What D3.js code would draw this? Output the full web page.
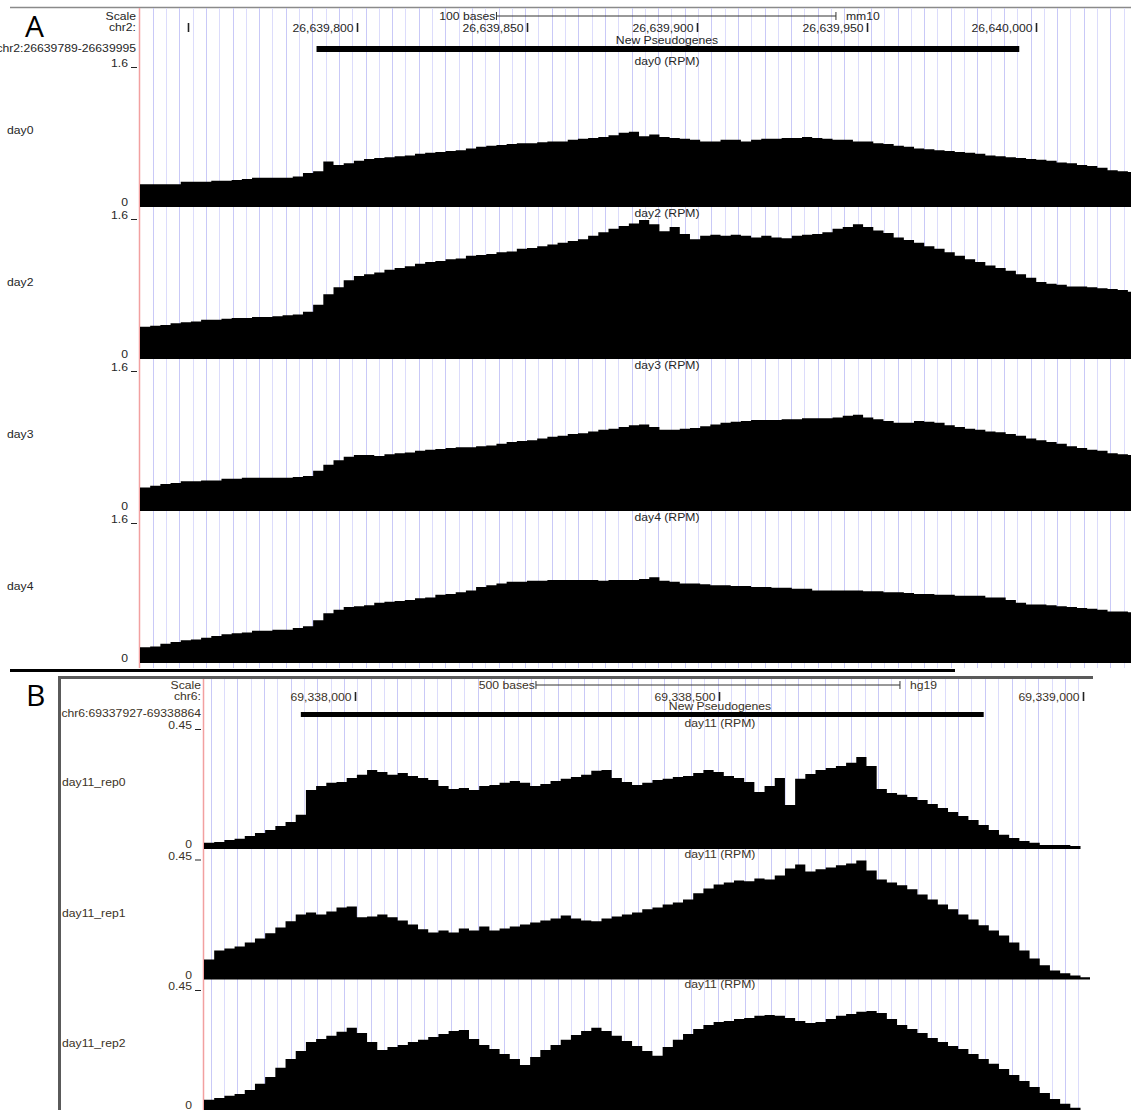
<!DOCTYPE html>
<html><head><meta charset="utf-8">
<script src="https://cdn.jsdelivr.net/npm/d3@7"></script>
<style>html,body{margin:0;padding:0;background:#fff}</style>
</head><body>
<svg id="c" width="1131" height="1110"></svg>
<script>
// ---------- Panel A: mm10 chr2, New Pseudogenes, RPM coverage ----------
const chromA = "chr2";
const assemblyA = "mm10";
const regionA = [26639736, 26640028];          // visible window
const featureA = [26639788, 26639995];         // pseudogene body
const featureLabelA = "chr2:26639789-26639995";
const scaleBarA = [26639841, 26639941];        // "100 bases"
const ticksA = [26639750, 26639800, 26639850, 26639900, 26639950, 26640000];
const tickLabelsA = ["", "26,639,800", "26,639,850", "26,639,900", "26,639,950", "26,640,000"];
const binStartA = 26639736, binSizeA = 3;
const tracksA = ["day0", "day2", "day3", "day4"];
const yMaxA = 1.6;

const day0 = [0.26,0.26,0.26,0.26,0.29,0.29,0.29,0.30,0.30,0.31,
  0.32,0.335,0.335,0.335,0.335,0.35,0.39,0.41,0.52,0.48,
  0.50,0.53,0.55,0.56,0.57,0.58,0.59,0.61,0.62,0.63,
  0.64,0.65,0.67,0.69,0.70,0.71,0.72,0.73,0.73,0.74,
  0.75,0.75,0.77,0.78,0.79,0.80,0.82,0.85,0.86,0.81,
  0.83,0.80,0.79,0.78,0.77,0.75,0.75,0.77,0.77,0.75,
  0.77,0.78,0.78,0.79,0.79,0.80,0.79,0.78,0.77,0.77,
  0.75,0.75,0.73,0.72,0.70,0.69,0.67,0.66,0.65,0.64,
  0.63,0.62,0.61,0.59,0.58,0.57,0.56,0.55,0.54,0.53,
  0.51,0.50,0.48,0.47,0.45,0.42,0.41,0.40];
const day2 = [0.37,0.38,0.39,0.41,0.42,0.43,0.45,0.45,0.46,0.47,
  0.47,0.48,0.48,0.49,0.50,0.51,0.54,0.62,0.74,0.82,
  0.90,0.95,0.97,0.99,1.02,1.04,1.06,1.09,1.11,1.12,
  1.14,1.15,1.18,1.19,1.20,1.22,1.23,1.26,1.27,1.29,
  1.31,1.33,1.35,1.37,1.41,1.45,1.49,1.52,1.55,1.59,
  1.54,1.46,1.51,1.43,1.37,1.41,1.42,1.41,1.42,1.41,
  1.39,1.41,1.39,1.38,1.41,1.42,1.43,1.45,1.49,1.51,
  1.54,1.51,1.47,1.44,1.39,1.36,1.33,1.29,1.26,1.22,
  1.18,1.14,1.11,1.07,1.04,1.01,0.97,0.93,0.88,0.86,
  0.85,0.83,0.83,0.82,0.81,0.80,0.79,0.77];
const day3 = [0.27,0.29,0.31,0.32,0.34,0.34,0.35,0.35,0.37,0.37,
  0.38,0.38,0.38,0.38,0.38,0.39,0.40,0.46,0.53,0.58,
  0.62,0.64,0.64,0.63,0.65,0.66,0.67,0.69,0.70,0.71,
  0.72,0.73,0.73,0.74,0.75,0.77,0.79,0.80,0.81,0.83,
  0.85,0.86,0.88,0.89,0.91,0.93,0.94,0.96,0.98,0.99,
  0.96,0.93,0.93,0.94,0.95,0.97,0.99,1.01,1.02,1.03,
  1.04,1.04,1.04,1.05,1.05,1.06,1.06,1.06,1.07,1.09,
  1.10,1.07,1.05,1.03,1.01,1.01,1.03,1.02,1.01,0.98,
  0.96,0.94,0.93,0.91,0.90,0.88,0.86,0.83,0.81,0.79,
  0.77,0.74,0.72,0.70,0.69,0.66,0.65,0.64];
const day4 = [0.18,0.19,0.22,0.24,0.26,0.27,0.29,0.31,0.33,0.34,
  0.35,0.37,0.37,0.38,0.38,0.40,0.42,0.49,0.57,0.61,
  0.64,0.65,0.66,0.69,0.70,0.71,0.72,0.74,0.75,0.78,
  0.79,0.81,0.83,0.87,0.89,0.91,0.93,0.93,0.94,0.94,
  0.95,0.95,0.95,0.95,0.95,0.94,0.95,0.95,0.95,0.96,
  0.98,0.94,0.93,0.91,0.91,0.90,0.89,0.89,0.88,0.88,
  0.87,0.87,0.86,0.86,0.85,0.85,0.83,0.83,0.83,0.83,
  0.83,0.82,0.82,0.81,0.81,0.80,0.79,0.79,0.78,0.78,
  0.77,0.77,0.77,0.75,0.75,0.72,0.69,0.67,0.67,0.66,
  0.65,0.64,0.63,0.62,0.61,0.59,0.59,0.58];

// ---------- Panel B: hg19 chr6, New Pseudogenes, RPM coverage ----------
const chromB = "chr6";
const assemblyB = "hg19";
const regionB = [69337793, 69339010];
const featureB = [69337926, 69338864];
const featureLabelB = "chr6:69337927-69338864";
const scaleBarB = [69338249, 69338749];        // "500 bases"
const ticksB = [69338000, 69338500, 69339000];
const tickLabelsB = ["69,338,000", "69,338,500", "69,339,000"];
const binStartB = 69337793, binSizeB = 14;
const tracksB = ["day11_rep0", "day11_rep1", "day11_rep2"];
const yMaxB = 0.45;

const rep0 = [0.023,0.026,0.034,0.038,0.049,0.060,0.071,0.086,0.101,0.128,
  0.221,0.236,0.248,0.251,0.266,0.278,0.296,0.289,0.278,0.285,
  0.274,0.266,0.259,0.236,0.225,0.229,0.221,0.236,0.240,0.248,
  0.255,0.248,0.236,0.244,0.255,0.263,0.270,0.278,0.293,0.296,
  0.266,0.251,0.240,0.248,0.259,0.263,0.270,0.274,0.285,0.296,
  0.289,0.274,0.266,0.251,0.214,0.236,0.266,0.165,0.263,0.281,
  0.296,0.304,0.311,0.323,0.345,0.311,0.225,0.210,0.203,0.195,
  0.184,0.169,0.154,0.139,0.124,0.109,0.090,0.071,0.053,0.041,
  0.030,0.023,0.015,0.015,0.015,0.011,0];
const rep1 = [0.075,0.109,0.116,0.124,0.139,0.154,0.173,0.195,0.218,0.244,
  0.251,0.244,0.255,0.270,0.274,0.233,0.236,0.244,0.233,0.221,
  0.206,0.188,0.176,0.184,0.176,0.191,0.184,0.199,0.184,0.191,
  0.199,0.206,0.214,0.221,0.229,0.240,0.229,0.221,0.218,0.229,
  0.236,0.244,0.251,0.263,0.270,0.281,0.289,0.300,0.323,0.341,
  0.356,0.364,0.371,0.368,0.379,0.375,0.390,0.416,0.431,0.405,
  0.413,0.420,0.428,0.435,0.446,0.409,0.375,0.364,0.353,0.338,
  0.319,0.300,0.281,0.263,0.244,0.225,0.203,0.184,0.165,0.139,
  0.109,0.079,0.053,0.034,0.023,0.015,0.008];
const rep2 = [0.038,0.045,0.053,0.060,0.075,0.098,0.124,0.158,0.191,0.221,
  0.255,0.266,0.278,0.293,0.308,0.289,0.255,0.225,0.236,0.244,
  0.255,0.263,0.274,0.285,0.296,0.300,0.266,0.244,0.229,0.210,
  0.191,0.169,0.199,0.225,0.244,0.263,0.281,0.296,0.308,0.296,
  0.278,0.259,0.240,0.221,0.203,0.236,0.263,0.285,0.304,0.319,
  0.330,0.334,0.341,0.345,0.353,0.356,0.353,0.345,0.334,0.326,
  0.330,0.341,0.353,0.360,0.368,0.371,0.364,0.341,0.319,0.304,
  0.289,0.270,0.255,0.240,0.229,0.210,0.191,0.173,0.154,0.131,
  0.109,0.086,0.064,0.041,0.023,0.008,0];

// ---------- drawing ----------
const svg = d3.select("#c");
const FONT = "'Liberation Sans', Arial, Helvetica, sans-serif";
const SX = 1.22;   // browser-style wide glyphs

function label(g, x, y, s, anchor, o = {}) {
  return g.append("text")
    .attr("transform", `translate(${x},${y}) scale(${o.sx || SX},1)`)
    .attr("text-anchor", anchor || "start")
    .attr("font-family", FONT)
    .attr("font-size", o.size || 10)
    .attr("fill", o.fill || "#222")
    .text(s);
}

function drawPanel(p) {
  const g = svg.append("g");
  const x = d3.scaleLinear().domain(p.region).range([p.left, p.rightEdge]);

  const clipId = "clip" + p.id;
  svg.append("clipPath").attr("id", clipId)
    .append("rect").attr("x", p.left).attr("y", p.top).attr("width", p.right - p.left).attr("height", p.bottom - p.top);

  // guide lines
  const guides = d3.range(p.left + p.guideOffset, p.right, p.guideStep);
  g.append("g").selectAll("line").data(guides).join("line")
    .attr("x1", d => Math.round(d) + 0.5).attr("x2", d => Math.round(d) + 0.5)
    .attr("y1", p.top).attr("y2", p.bottom)
    .attr("stroke", (d, i) => i % 2 ? "#dcdcfb" : "#c9c9f7").attr("stroke-width", 1);

  // left red boundary
  g.append("line").attr("x1", p.left - 0.5).attr("x2", p.left - 0.5)
    .attr("y1", p.top).attr("y2", p.bottom).attr("stroke", "#f2a0a0").attr("stroke-width", 1.5);

  const fill = p.textFill;
  // ruler
  label(g, p.labelRight, p.r.scaleY, "Scale", "end", {fill});
  label(g, p.labelRight, p.r.chromY, p.chrom + ":", "end", {fill});
  const b0 = x(p.scaleBar[0]), b1 = x(p.scaleBar[1]);
  g.append("line").attr("x1", b0).attr("x2", b1).attr("y1", p.r.barY).attr("y2", p.r.barY).attr("stroke", "#333");
  [b0, b1].forEach(bx => g.append("line").attr("x1", bx).attr("x2", bx)
    .attr("y1", p.r.barY - 4).attr("y2", p.r.barY + 4).attr("stroke", "#333"));
  label(g, b0 - 1, p.r.scaleY, (p.scaleBar[1] - p.scaleBar[0]) + " bases", "end", {fill});
  label(g, b1 + 10, p.r.scaleY, p.assembly, "start", {fill});

  p.ticks.forEach((t, i) => {
    const tx = Math.round(x(t)) + 0.5;
    g.append("line").attr("x1", tx).attr("x2", tx)
      .attr("y1", p.r.tickY - 9).attr("y2", p.r.tickY).attr("stroke", "#222").attr("stroke-width", 1.6);
    if (p.tickLabels[i]) label(g, tx - 4, p.r.tickY, p.tickLabels[i], "end", {fill});
  });

  label(g, p.center, p.r.featLabelY, "New Pseudogenes", "middle", {fill});
  g.append("rect").attr("x", x(p.feature[0])).attr("width", x(p.feature[1]) - x(p.feature[0]))
    .attr("y", p.r.featY).attr("height", p.r.featH).attr("fill", "#000");
  label(g, p.labelRight, p.r.posY, p.featureLabel, "end", {fill});

  // coverage tracks
  p.tracks.forEach((name, ti) => {
    const top = p.firstMax + ti * p.pitch;
    const zero = top + p.trackH;
    const y = d3.scaleLinear().domain([0, p.yMax]).range([zero, top]);
    const vals = p.data[ti];
    const pts = vals.map((v, i) => [p.binStart + i * p.binSize, v]);
    pts.push([p.binStart + vals.length * p.binSize, vals[vals.length - 1]]);
    const area = d3.area().curve(d3.curveStepAfter)
      .x(d => x(d[0])).y0(zero).y1(d => y(d[1]));
    g.append("path").attr("clip-path", `url(#${clipId})`)
      .attr("d", area(pts)).attr("fill", "#000");

    label(g, p.center, top - 2, p.title(name), "middle", {fill});
    label(g, p.axisRight, top, String(p.yMax), "end", {fill});
    g.append("line").attr("x1", p.axisRight + 3).attr("x2", p.axisRight + 9)
      .attr("y1", top + 0.5).attr("y2", top + 0.5).attr("stroke", "#222");
    label(g, p.axisRight, zero - 1, "0", "end", {fill});
    label(g, p.sideX, (top + zero) / 2 - 3, name, "start", {fill, size: 10});
  });
  return g;
}

// Panel A frame
svg.append("line").attr("x1", 10).attr("x2", 1131).attr("y1", 7.5).attr("y2", 7.5)
  .attr("stroke", "#8a8a8a").attr("stroke-width", 1.5);

drawPanel({
  id: "A", chrom: chromA, assembly: assemblyA, region: regionA,
  left: 140, rightEdge: 1131.3, right: 1131, top: 8, bottom: 668,
  guideOffset: 12.7, guideStep: 13.3,
  labelRight: 136, axisRight: 128, center: 667, sideX: 7,
  r: {scaleY: 20, chromY: 31, barY: 16, tickY: 32, featLabelY: 44, featY: 46, featH: 6, posY: 52},
  scaleBar: scaleBarA, ticks: ticksA, tickLabels: tickLabelsA,
  feature: featureA, featureLabel: featureLabelA,
  tracks: tracksA, data: [day0, day2, day3, day4],
  binStart: binStartA, binSize: binSizeA, yMax: yMaxA,
  firstMax: 67, pitch: 152, trackH: 140,
  title: n => n + " (RPM)", textFill: "#262626"
});

// separator between panels
svg.append("line").attr("x1", 10).attr("x2", 955).attr("y1", 670.5).attr("y2", 670.5)
  .attr("stroke", "#000").attr("stroke-width", 3);

// Panel B (clipped at the frame)
svg.append("clipPath").attr("id", "frameB").append("rect")
  .attr("x", 61).attr("y", 679).attr("width", 1030).attr("height", 440);

const panelB = drawPanel({
  id: "B", chrom: chromB, assembly: assemblyB, region: regionB,
  left: 204, rightEdge: 204 + (regionB[1] - regionB[0]) * 0.728, right: 1090, top: 679, bottom: 1110,
  guideOffset: 6.5, guideStep: 13.35,
  labelRight: 201, axisRight: 192, center: 720, sideX: 62,
  r: {scaleY: 689, chromY: 700, barY: 685, tickY: 701, featLabelY: 710, featY: 712, featH: 5, posY: 717},
  scaleBar: scaleBarB, ticks: ticksB, tickLabels: tickLabelsB,
  feature: featureB, featureLabel: featureLabelB,
  tracks: tracksB, data: [rep0, rep1, rep2],
  binStart: binStartB, binSize: binSizeB, yMax: yMaxB,
  firstMax: 729, pitch: 130.5, trackH: 120,
  title: n => "day11 (RPM)", textFill: "#3b3226"
});
panelB.attr("clip-path", "url(#frameB)");

// Panel B frame
svg.append("path").attr("d", "M59.5,1110 V677.5 H1093")
  .attr("fill", "none").attr("stroke", "#5a5a5a").attr("stroke-width", 3);

// panel letters
svg.append("text").attr("x", 25).attr("y", 37).attr("font-family", "'Open Sans', Arial, sans-serif")
  .attr("font-size", 30).attr("fill", "#000").text("A");
svg.append("text").attr("x", 26).attr("y", 706).attr("font-family", "'Open Sans', Arial, sans-serif")
  .attr("font-size", 30).attr("fill", "#000").text("B");
</script>
</body></html>
